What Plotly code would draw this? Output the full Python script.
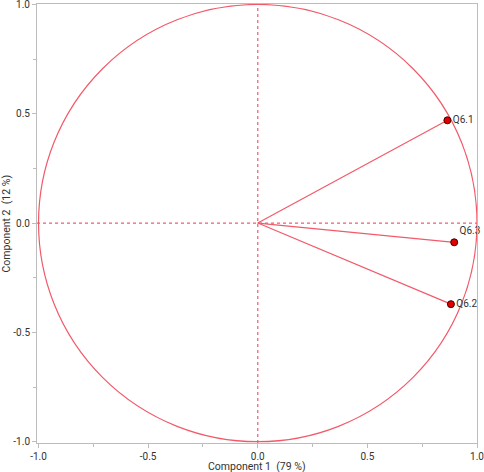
import plotly.graph_objects as go

# loadings
labels = ["Q6.1", "Q6.3", "Q6.2"]
comp1 = [0.865, 0.896, 0.881]
comp2 = [0.470, -0.088, -0.371]
label_pos = ["middle right", "top right", "middle right"]

tick_vals = [-1.0, -0.5, 0.0, 0.5, 1.0]
tick_text = ["-1.0", "-0.5", "0.0", "0.5", "1.0"]

radius = 1.0
red = "#F25A6A"
grey = "#BDBDBD"
text_col = "#333333"
font_family = "Roboto, Liberation Sans, sans-serif"

fig = go.Figure()

# rays from origin to each variable
for x, y in zip(comp1, comp2):
    fig.add_trace(go.Scatter(
        x=[0, x], y=[0, y], mode="lines",
        line=dict(color=red, width=1.2),
        hoverinfo="skip", showlegend=False,
    ))

fig.add_trace(go.Scatter(
    x=comp1, y=comp2, mode="markers+text",
    text=labels, textposition=label_pos,
    textfont=dict(size=10, color=text_col),
    marker=dict(color="#E00000", size=7, line=dict(color="#400000", width=1)),
    cliponaxis=False, showlegend=False,
))

# correlation circle and dotted zero lines
fig.add_shape(type="circle", xref="x", yref="y",
              x0=-radius, y0=-radius, x1=radius, y1=radius,
              line=dict(color=red, width=1.2), layer="below")
fig.add_shape(type="line", xref="x", yref="paper", x0=0, x1=0, y0=0, y1=1,
              line=dict(color=red, width=1.2, dash="dot"), layer="below")
fig.add_shape(type="line", xref="paper", yref="y", x0=0, x1=1, y0=0, y1=0,
              line=dict(color=red, width=1.2, dash="dot"), layer="below")

axis_common = dict(
    tickvals=tick_vals, ticktext=tick_text,
    showgrid=False, zeroline=False, automargin=False,
    showline=True, mirror=True, linecolor=grey, linewidth=1,
    ticks="outside", ticklen=4, tickcolor=grey,
    minor=dict(dtick=0.25, tick0=0, ticks="outside", ticklen=3, tickcolor=grey),
    tickfont=dict(size=10, color=text_col),
    ticklabeloverflow="allow",
)

fig.update_xaxes(range=[-1.007, 1.0], **axis_common)
fig.update_yaxes(range=[-1.006, 1.002], **axis_common)

# axis titles as annotations so they sit exactly where the reference has them
fig.add_annotation(text="Component 1  (79 %)", xref="paper", yref="paper",
                   x=0.5, y=0, yanchor="middle", yshift=-23.5, showarrow=False,
                   font=dict(size=10.5, color=text_col))
fig.add_annotation(text="Component 2  (12 %)", xref="paper", yref="paper",
                   x=0, y=0.5, xanchor="center", xshift=-31, textangle=-90,
                   showarrow=False, font=dict(size=10.5, color=text_col))

fig.update_layout(
    width=484, height=472,
    margin=dict(l=37, r=7, t=4, b=29),
    paper_bgcolor="white", plot_bgcolor="white",
    font=dict(family=font_family, size=10, color=text_col),
)

# drop the default page margin so the figure sits at the window corner
fig.write_html("out.html", config={"displayModeBar": False},
               post_script="document.body.style.margin='0';")
